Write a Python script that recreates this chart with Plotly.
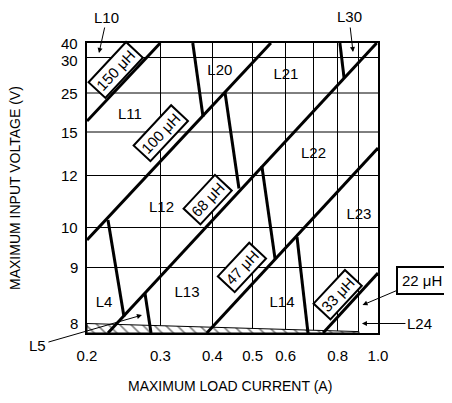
import numpy as np
import plotly.graph_objects as go

# y axis of the chart is neither linear nor log: map volts -> height above bottom edge
Y_SCALE_VOLTS = [7.83, 8, 9, 10, 12, 15, 25, 30, 40]
Y_SCALE_POS = [0, 9.5, 65.5, 105.5, 157.5, 201, 240, 275.5, 290]

x_ticks = [0.2, 0.3, 0.4, 0.5, 0.6, 0.7, 0.8, 0.9, 1.0]
x_tick_text = ['0.2', '0.3', '0.4', '0.5', '0.6', '', '0.8', '', '1.0']
y_ticks = [8, 9, 10, 12, 15, 25, 30, 40]
y_grid = [9, 10, 12, 15, 25, 30]

# inductance boundaries (load current A, input volts)
diag_i0 = [0.2, 0.2, 0.2246, 0.388, 0.738]
diag_v0 = [17.8, 9.69, 7.83, 7.83, 7.83]
diag_i1 = [0.3, 0.553, 0.993, 1.0, 1.0]
diag_v1 = [40, 40, 40, 13.9, 8.9]

# inductor code boundaries
step_i0 = [0.2246, 0.2756, 0.359, 0.429, 0.526, 0.639, 0.81]
step_v0 = [10.29, 8.54, 40, 25.1, 12.66, 9.76, 40]
step_i1 = [0.2454, 0.285, 0.380, 0.4635, 0.566, 0.679, 0.829]
step_v1 = [8.12, 7.83, 18.85, 11.5, 9.21, 7.83, 27.1]

# hatched strip at the bottom
hatch_i = [0.2, 0.9, 0.9, 0.2, 0.2]
hatch_v = [8.0, 7.855, 7.83, 7.83, 8.0]

# region labels
reg_text = ['L11', 'L12', 'L13', 'L4', 'L20', 'L21', 'L22', 'L23', 'L14']
reg_i = [0.2537, 0.302, 0.3477, 0.2197, 0.417, 0.601, 0.70, 0.90, 0.588]
reg_v = [19.36, 10.75, 8.545, 8.366, 28.1, 27.5, 13.48, 10.48, 8.366]

# inductance value boxes
ind_text = ['150 μH', '100 μH', '68 μH', '47 μH', '33 μH']
ind_i = [0.2335, 0.30, 0.3905, 0.471, 0.8016]
ind_v = [28.24, 14.93, 11.06, 9.0, 8.51]

# callouts with arrows
call_text = ['L10', 'L30', 'L5', 'L24', '22 μH']
call_i = [0.2137, 0.871, 0.271, 0.915, 0.918]
call_v = [33.1, 33.8, 8.15, 8.0, 8.33]
call_ax = [8, -4, -104, 58, 59]
call_ay = [-36, -35, 30, 0, -25]


def ypos(v):
    return np.interp(v, Y_SCALE_VOLTS, Y_SCALE_POS)


def segs(i0, v0, i1, v1):
    xs, ys = [], []
    for a, b, c, d in zip(i0, v0, i1, v1):
        xs += [a, c, None]
        ys += [ypos(b), ypos(d), None]
    return xs, ys


FONT = 'Liberation Sans'
fig = go.Figure()

# horizontal grid
gx, gy = [], []
for v in y_grid:
    gx += [0.2, 1.0, None]
    gy += [ypos(v), ypos(v), None]
fig.add_trace(go.Scatter(x=gx, y=gy, mode='lines', line=dict(color='black', width=1),
                         hoverinfo='skip'))

fig.add_trace(go.Scatter(x=hatch_i, y=ypos(hatch_v), mode='lines', fill='toself',
                         fillcolor='white', line=dict(color='black', width=1),
                         fillpattern=dict(shape='\\', fgcolor='black', bgcolor='white',
                                          size=8, solidity=0.2),
                         hoverinfo='skip'))

dx, dy = segs(diag_i0, diag_v0, diag_i1, diag_v1)
fig.add_trace(go.Scatter(x=dx, y=dy, mode='lines', line=dict(color='black', width=3)))
sx, sy = segs(step_i0, step_v0, step_i1, step_v1)
fig.add_trace(go.Scatter(x=sx, y=sy, mode='lines', line=dict(color='black', width=3)))

fig.add_trace(go.Scatter(x=reg_i, y=ypos(reg_v), mode='text', text=reg_text,
                         textfont=dict(family=FONT, size=15, color='black')))

for t, i, v in zip(ind_text, ind_i, ind_v):
    fig.add_annotation(x=np.log10(i), y=ypos(v), text=t, showarrow=False, textangle=-47,
                       bgcolor='white', bordercolor='black', borderwidth=2, borderpad=2,
                       font=dict(family=FONT, size=15, color='black'))

for t, i, v, ax, ay in zip(call_text, call_i, call_v, call_ax, call_ay):
    boxed = 'μH' in t
    fig.add_annotation(x=np.log10(i), y=ypos(v), text=t, showarrow=True, ax=ax, ay=ay,
                       arrowhead=2, arrowsize=1, arrowwidth=1, arrowcolor='black',
                       bgcolor='white' if boxed else None,
                       bordercolor='black' if boxed else None,
                       borderwidth=2 if boxed else 0, borderpad=4 if boxed else 2,
                       font=dict(family=FONT, size=15, color='black'))

# y tick labels (30 sits a little low in the original, clear of 40)
for v in y_ticks:
    fig.add_annotation(x=0, xref='paper', y=ypos(v), text=str(v), showarrow=False,
                       xanchor='right', xshift=-7, yshift=-3 if v == 30 else 0,
                       font=dict(family=FONT, size=15, color='black'))

fig.add_annotation(x=0, xref='paper', y=0.5, yref='paper', text='MAXIMUM INPUT VOLTAGE (V)',
                   showarrow=False, textangle=-90, xanchor='center', yanchor='middle',
                   xshift=-72, font=dict(family=FONT, size=14, color='black'))
fig.add_annotation(x=0.49, xref='paper', y=0, yref='paper', text='MAXIMUM LOAD CURRENT (A)',
                   showarrow=False, xanchor='center', yanchor='middle', yshift=-53,
                   font=dict(family=FONT, size=14, color='black'))

# page body has an 8px margin, so the figure is laid out 8px smaller
fig.update_layout(
    width=444, height=395, showlegend=False,
    margin=dict(l=79, r=74, t=35, b=70),
    plot_bgcolor='white', paper_bgcolor='white',
    font=dict(family=FONT, size=15, color='black'),
    xaxis=dict(type='log', range=[np.log10(0.2), 0], tickvals=x_ticks, ticktext=x_tick_text,
               showgrid=True, gridcolor='black', gridwidth=1, zeroline=False,
               showline=True, linecolor='black', linewidth=2, mirror=True, ticks='',
               ticklabelstandoff=8),
    yaxis=dict(range=[0, 290], showticklabels=False,
               showgrid=False, zeroline=False, showline=True, linecolor='black',
               linewidth=2, mirror=True, ticks=''),
)

fig.write_html("out.html")
